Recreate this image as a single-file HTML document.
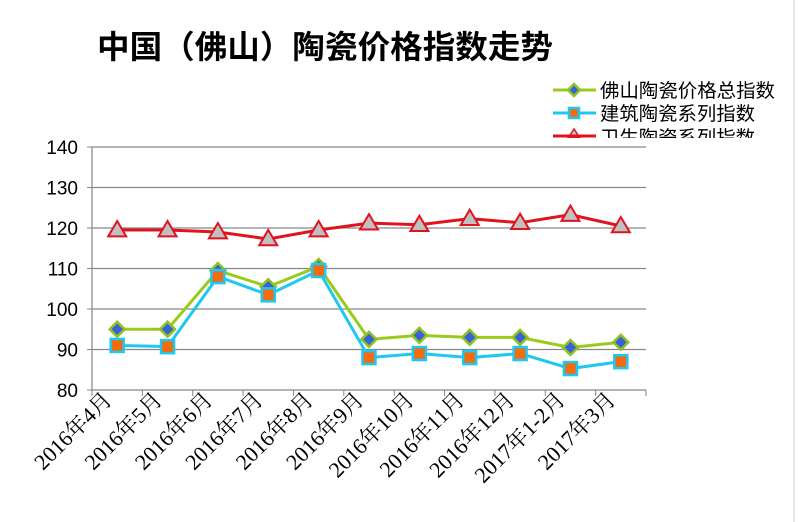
<!DOCTYPE html>
<html><head><meta charset="utf-8">
<style>
html,body{margin:0;padding:0;background:#fff;}
svg{display:block;}
</style></head>
<body>
<svg id="c" width="798" height="522" xmlns="http://www.w3.org/2000/svg">
<rect width="798" height="522" fill="#fff"/>
<text x="97" y="58" font-family="'Noto Sans CJK SC','WenQuanYi Zen Hei',sans-serif" font-weight="bold" font-size="32" fill="#000" textLength="456" lengthAdjust="spacingAndGlyphs">中国（佛山）陶瓷价格指数走势</text>
</svg>
<script>
const s=document.getElementById('c');const NS='http://www.w3.org/2000/svg';
function el(t,a,txt){const e=document.createElementNS(NS,t);for(const k in a)e.setAttribute(k,a[k]);if(txt!=null)e.textContent=txt;s.appendChild(e);return e;}
const X0=92,X1=646,Y80=390,Y140=147;
const y=v=>Y80-(v-80)*(Y80-Y140)/60;
const cw=(X1-X0)/11;const cx=i=>X0+cw*(i+0.5);
for(let v=80;v<=140;v+=10){el('line',{x1:X0,x2:X1,y1:y(v),y2:y(v),stroke:'#868686','stroke-width':1.2});
el('line',{x1:X0-5,x2:X0,y1:y(v),y2:y(v),stroke:'#868686'});
el('text',{x:X0-14,y:y(v)+7,'text-anchor':'end','font-family':'Liberation Sans Narrow,Liberation Sans,sans-serif','font-size':19,fill:'#000'},String(v));}
el('line',{x1:X0,x2:X0,y1:Y140,y2:Y80,stroke:'#868686','stroke-width':1.2});
for(let i=0;i<=11;i++){const xx=X0+cw*i;el('line',{x1:xx,x2:xx,y1:Y80,y2:Y80+6,stroke:'#868686'});}
const labs=['2016年4月','2016年5月','2016年6月','2016年7月','2016年8月','2016年9月','2016年10月','2016年11月','2016年12月','2017年1-2月','2017年3月'];
labs.forEach((l,i)=>{const ex=cx(i)-4,ey=401;el('text',{x:ex,y:ey,'text-anchor':'end',transform:`rotate(-45 ${ex} ${ey})`,'font-family':"'Liberation Serif','Noto Serif CJK SC',serif",'font-size':22,fill:'#000'},l);});
const red=[119.5,119.5,119,117.3,119.5,121.2,120.8,122.3,121.3,123.3,120.5];
const blue=[91,90.7,108,103.5,109.5,88,89,88,89,85.3,87];
const green=[95,95,109.5,105.5,110.5,92.5,93.5,93,93,90.5,91.8];
function line(d,c){el('polyline',{points:d.map((v,i)=>cx(i)+','+y(v)).join(' '),fill:'none',stroke:c,'stroke-width':3});}
function tri(x,yy,sz){el('polygon',{points:`${x},${yy-sz} ${x-sz},${yy+sz*0.7} ${x+sz},${yy+sz*0.7}`,fill:'#c0c0c0',stroke:'#e0141e','stroke-width':2});}
function sq(x,yy,sz){el('rect',{x:x-sz,y:yy-sz,width:sz*2,height:sz*2,fill:'#f26b0f',stroke:'#1ec8f0','stroke-width':2.5});}
function dia(x,yy,sz){el('polygon',{points:`${x},${yy-sz} ${x+sz},${yy} ${x},${yy+sz} ${x-sz},${yy}`,fill:'#3a62d8',stroke:'#90c31e','stroke-width':2.5});}
line(red,'#e0141e');red.forEach((v,i)=>tri(cx(i),y(v),9));
line(green,'#9acb1c');green.forEach((v,i)=>dia(cx(i),y(v),7.5));
line(blue,'#1ec8f0');blue.forEach((v,i)=>sq(cx(i),y(v),6.5));
const lf="'Noto Sans CJK SC','WenQuanYi Zen Hei',sans-serif";
el('line',{x1:553,x2:596,y1:90,y2:90,stroke:'#9acb1c','stroke-width':3});dia(574,90,6);
el('text',{x:600,y:97,'font-family':lf,'font-size':19,fill:'#000',textLength:175,lengthAdjust:'spacingAndGlyphs'},'佛山陶瓷价格总指数');
el('line',{x1:553,x2:596,y1:113,y2:113,stroke:'#1ec8f0','stroke-width':3});sq(574,113,5);
el('text',{x:600,y:120,'font-family':lf,'font-size':19,fill:'#000',textLength:155,lengthAdjust:'spacingAndGlyphs'},'建筑陶瓷系列指数');
el('line',{x1:553,x2:596,y1:136,y2:136,stroke:'#e0141e','stroke-width':3});
el('polygon',{points:'574,129 568,138 580,138',fill:'#c0c0c0',stroke:'#e0141e','stroke-width':1.5});
el('text',{x:600,y:144,'font-family':lf,'font-size':19,fill:'#000',textLength:155,lengthAdjust:'spacingAndGlyphs'},'卫生陶瓷系列指数');
el('rect',{x:540,y:138,width:255,height:8,fill:'#fff'});
el('line',{x1:553,x2:596,y1:136,y2:136,stroke:'#e0141e','stroke-width':3});
el('line',{x1:794,x2:794,y1:0,y2:522,stroke:'#d0d0d0','stroke-width':1});
</script>
</body></html>
